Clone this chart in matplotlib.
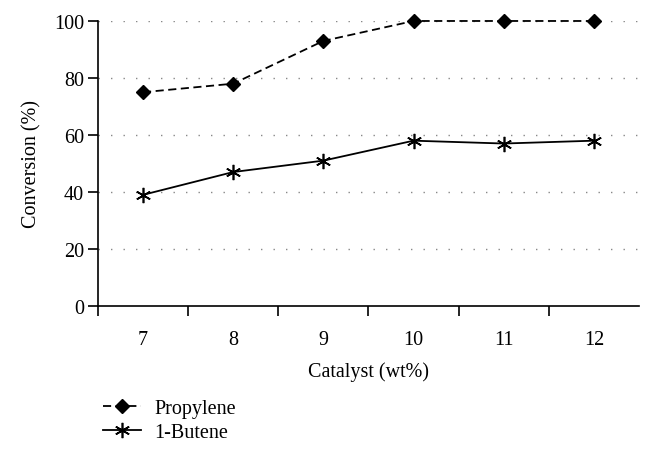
import numpy as np
import matplotlib.pyplot as plt

plt.rcParams['font.family'] = ['Liberation Serif', 'DejaVu Serif']
plt.rcParams['font.size'] = 14.5

catalyst = ['7', '8', '9', '10', '11', '12']
propylene = [75, 78, 93, 100, 100, 100]
butene = [39, 47, 51, 58, 57, 58]

fig = plt.figure(figsize=(6.54, 4.56), dpi=100)
ax = fig.add_axes([0.1498, 0.3268, 0.8272, 0.625])

x = np.arange(len(catalyst))
ax.plot(x, propylene, color='black', linestyle=(0, (4.5, 2.5)), linewidth=1.3,
        marker='D', markersize=7, label='Propylene', clip_on=False)
ax.plot(x, butene, color='black', linestyle='-', linewidth=1.3,
        marker=(6, 2, 0), markersize=11, markeredgewidth=1.2, label='1-Butene',
        clip_on=False)

ax.set_xlim(-0.5, 5.5)
ax.set_ylim(0, 100)
ax.set_yticks(np.arange(0, 101, 20))
ax.set_xticks(x)
ax.set_xticklabels(catalyst)
ax.set_xticks(np.arange(-0.5, 5.0, 1.0), minor=True)
ax.tick_params(axis='x', which='major', length=0, pad=17)
ax.tick_params(axis='x', which='minor', length=7, width=1.2, direction='out')
ax.tick_params(axis='y', length=7, width=1.2, direction='out', pad=3)

for v in range(20, 101, 20):
    ax.axhline(v, color='#888888', linestyle=(0, (1, 8)), linewidth=1.0, zorder=0)

for s in ['top', 'right']:
    ax.spines[s].set_visible(False)
for s in ['left', 'bottom']:
    ax.spines[s].set_linewidth(1.2)

ax.set_xlabel('Catalyst (wt%)', labelpad=9)
ax.set_ylabel('Conversion (%)', labelpad=9)

fig.legend(loc='upper left', bbox_to_anchor=(0.145, 0.14), frameon=False,
           handlelength=1.9, handletextpad=0.65, labelspacing=0.25, borderaxespad=0)

fig.savefig('out.png', dpi=100)
